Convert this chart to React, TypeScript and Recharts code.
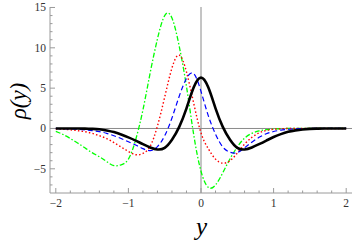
import React from 'react';
import { LineChart, Line, XAxis, YAxis, ReferenceLine } from 'recharts';

// sample positions along y (step 0.1)
const yPos = [
  -2.0, -1.9, -1.8, -1.7, -1.6, -1.5, -1.4, -1.3, -1.2, -1.1, -1.0,
  -0.9, -0.8, -0.7, -0.6, -0.5, -0.4, -0.3, -0.2, -0.1, 0,
  0.1, 0.2, 0.3, 0.4, 0.5, 0.6, 0.7, 0.8, 0.9, 1.0,
  1.1, 1.2, 1.3, 1.4, 1.5, 1.6, 1.7, 1.8, 1.9, 2.0,
];

const blackRho = [
  0, 0, 0, 0, -0.02, -0.05, -0.1, -0.25, -0.45, -0.75, -1.1,
  -1.5, -1.95, -2.35, -2.6, -2.4, -1.4, 0.2, 2.5, 5.1, 6.3,
  5.1, 2.5, 0.2, -1.4, -2.4, -2.6, -2.35, -1.95, -1.5, -1.05,
  -0.7, -0.42, -0.24, -0.12, -0.05, -0.02, 0, 0, 0, 0,
];

const blueRho = [
  0, -0.02, -0.05, -0.1, -0.17, -0.27, -0.4, -0.6, -0.9, -1.25, -1.65,
  -2.05, -2.5, -2.75, -2.25, -0.9, 1.3, 4.0, 6.2, 6.8, 4.6,
  1.6, -0.7, -2.3, -2.95, -3.0, -2.4, -1.7, -1.1, -0.65, -0.38,
  -0.2, -0.1, -0.05, -0.02, 0, 0, 0, 0, 0, 0,
];

const redRho = [
  -0.05, -0.1, -0.17, -0.27, -0.4, -0.6, -0.9, -1.25, -1.75, -2.3, -2.85,
  -3.25, -3.1, -2.2, 0.3, 3.9, 7.5, 9.1, 7.0, 3.1, -0.55,
  -2.5, -3.8, -4.3, -4.0, -3.05, -1.95, -1.1, -0.55, -0.25, -0.1,
  -0.04, 0, 0, 0, 0, 0, 0, 0, 0, 0,
];

const greenRho = [
  -0.35, -0.75, -1.25, -1.8, -2.4, -3.0, -3.5, -4.1, -4.6, -4.5, -3.8,
  -1.4, 2.3, 6.9, 11.1, 14.0, 13.7, 10.2, 5.2, -0.8, -5.3,
  -7.3, -7.0, -5.5, -3.75, -2.3, -1.2, -0.6, -0.3, -0.15, -0.07,
  -0.03, 0, 0, 0, 0, 0, 0, 0, 0, 0,
];

const xTicks = [
  -2, -1.8, -1.6, -1.4, -1.2, -1, -0.8, -0.6, -0.4, -0.2, 0,
  0.2, 0.4, 0.6, 0.8, 1, 1.2, 1.4, 1.6, 1.8, 2,
];
const xLabels = [-2, -1, 0, 1, 2];
const yTicks = [
  -7, -6, -5, -4, -3, -2, -1, 0, 1, 2, 3, 4, 5, 6, 7, 8, 9, 10, 11, 12, 13, 14, 15,
];
const yLabels = [-5, 0, 5, 10, 15];

const rows = yPos.map((y, i) => ({
  y,
  black: blackRho[i],
  blue: blueRho[i],
  red: redRho[i],
  green: greenRho[i],
}));

const FRAME = '#9a9a9a';
const SERIF = '"Liberation Serif", "Times New Roman", serif';
const tickText = { fontFamily: SERIF, fontSize: 11.5, fill: '#333' };

const isIn = (list: number[], v: number) => list.some((m) => Math.abs(m - v) < 1e-6);
const fmt = (v: number) => (v < 0 ? '\u2212' + Math.abs(v) : String(v));

const BottomTick = (props: any) => {
  const { x, y, payload } = props;
  const major = isIn(xLabels, payload.value);
  return (
    <g>
      <line x1={x} x2={x} y1={y} y2={y - (major ? 5 : 2.5)} stroke={FRAME} />
      {major && (
        <text x={x} y={y + 14} textAnchor="middle" style={tickText}>
          {fmt(payload.value)}
        </text>
      )}
    </g>
  );
};

const TopTick = (props: any) => {
  const { x, y, payload } = props;
  const major = isIn(xLabels, payload.value);
  return <line x1={x} x2={x} y1={y} y2={y + (major ? 5 : 2.5)} stroke={FRAME} />;
};

const LeftTick = (props: any) => {
  const { x, y, payload } = props;
  const major = isIn(yLabels, payload.value);
  return (
    <g>
      <line x1={x} x2={x + (major ? 5 : 2.5)} y1={y} y2={y} stroke={FRAME} />
      {major && (
        <text x={x - 4} y={y + 4} textAnchor="end" style={tickText}>
          {fmt(payload.value)}
        </text>
      )}
    </g>
  );
};

const RightTick = (props: any) => {
  const { x, y, payload } = props;
  const major = isIn(yLabels, payload.value);
  return <line x1={x} x2={x - (major ? 5 : 2.5)} y1={y} y2={y} stroke={FRAME} />;
};

export default function App() {
  return (
    <div style={{ position: 'absolute', left: 0, top: 0, width: 354, height: 245, background: '#fff' }}>
      <LineChart width={354} height={245} data={rows} margin={{ top: 7, right: 2, bottom: 22, left: 0 }}>
        <XAxis
          dataKey="y"
          type="number"
          domain={[-2.08, 2.08]}
          allowDataOverflow
          ticks={xTicks}
          interval={0}
          height={30}
          tickSize={0}
          tickMargin={0}
          tickLine={false}
          axisLine={{ stroke: FRAME }}
          tick={<BottomTick />}
        />
        <XAxis
          xAxisId="top"
          dataKey="y"
          type="number"
          orientation="top"
          domain={[-2.08, 2.08]}
          allowDataOverflow
          ticks={xTicks}
          interval={0}
          height={0}
          tickSize={0}
          tickMargin={0}
          tickLine={false}
          axisLine={{ stroke: FRAME }}
          tick={<TopTick />}
        />
        <YAxis
          type="number"
          domain={[-8, 15.06]}
          allowDataOverflow
          ticks={yTicks}
          interval={0}
          width={50}
          tickSize={0}
          tickMargin={0}
          tickLine={false}
          axisLine={{ stroke: FRAME }}
          tick={<LeftTick />}
        />
        <YAxis
          yAxisId="right"
          type="number"
          orientation="right"
          domain={[-8, 15.06]}
          allowDataOverflow
          ticks={yTicks}
          interval={0}
          width={0}
          tickSize={0}
          tickMargin={0}
          tickLine={false}
          axisLine={{ stroke: FRAME }}
          tick={<RightTick />}
        />
        <ReferenceLine x={0} stroke="#8a8a8a" strokeWidth={1} />
        <ReferenceLine y={0} stroke="#8a8a8a" strokeWidth={1} />
        <Line
          type="natural"
          dataKey="green"
          stroke="#00ff00"
          strokeWidth={1.3}
          strokeDasharray="5 2 1.5 2"
          dot={false}
          isAnimationActive={false}
        />
        <Line
          type="natural"
          dataKey="red"
          stroke="#ff0000"
          strokeWidth={1.4}
          strokeDasharray="1.5 2.2"
          dot={false}
          isAnimationActive={false}
        />
        <Line
          type="natural"
          dataKey="blue"
          stroke="#0000ff"
          strokeWidth={1.2}
          strokeDasharray="5 3"
          dot={false}
          isAnimationActive={false}
        />
        <Line
          type="natural"
          dataKey="black"
          stroke="#000"
          strokeWidth={2.6}
          dot={false}
          isAnimationActive={false}
        />
      </LineChart>
      <div
        style={{
          position: 'absolute',
          left: 18,
          top: 101,
          transform: 'translate(-50%, -50%) rotate(-90deg)',
          fontFamily: SERIF,
          fontStyle: 'italic',
          fontSize: 23,
          lineHeight: 1,
          whiteSpace: 'nowrap',
          color: '#000',
        }}
      >
        ρ(y)
      </div>
      <div
        style={{
          position: 'absolute',
          left: 201.5,
          top: 214,
          transform: 'translateX(-50%)',
          fontFamily: SERIF,
          fontStyle: 'italic',
          fontSize: 25,
          lineHeight: 1,
          color: '#000',
        }}
      >
        y
      </div>
    </div>
  );
}
